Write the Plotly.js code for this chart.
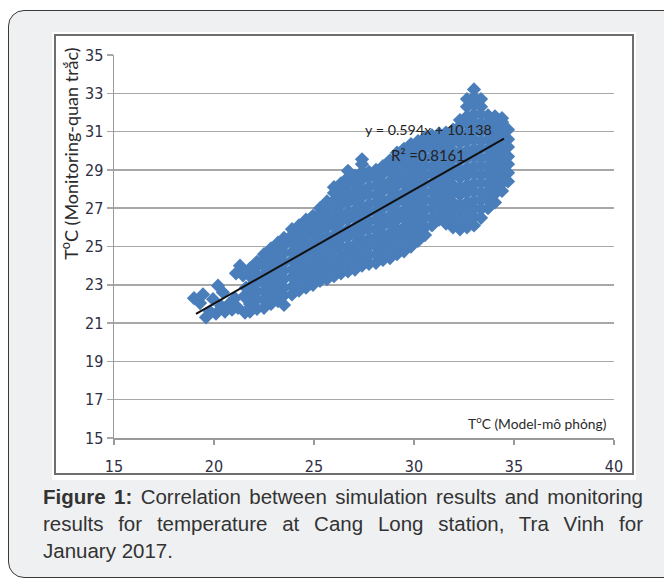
<!DOCTYPE html>
<html>
<head>
<meta charset="utf-8">
<script src="https://cdn.plot.ly/plotly-3.0.1.min.js"></script>
<style>
  html, body { margin: 0; padding: 0; background: #ffffff; width: 664px; height: 581px; overflow: hidden; }
  #panel { position: absolute; left: 8px; top: 10px; width: 700px; height: 566px; border: 1px solid #3a3a3a; border-radius: 16px; background: #eff0f2; }
  #imgbox { position: absolute; left: 52px; top: 32px; width: 584px; height: 448px; background: #ffffff; }
  #chart { position: absolute; left: 52px; top: 32px; width: 584px; height: 448px; }
  #frame { position: absolute; left: 54px; top: 34px; width: 576px; height: 437px; border: 2px solid #6e6e6e; pointer-events: none; }
  #caption { position: absolute; left: 43px; top: 483px; width: 600px; font-family: "Liberation Sans", Arial, sans-serif; font-size: 20.5px; line-height: 27px; color: #333333; }
  #caption div { white-space: nowrap; }
  #caption .j { text-align: justify; text-align-last: justify; }
</style>
</head>
<body>
<div id="panel"></div>
<div id="imgbox"></div>
<div id="chart"></div>
<div id="frame"></div>
<div id="caption">
  <div class="j"><b>Figure 1:</b> Correlation between simulation results and monitoring</div>
  <div class="j">results for temperature at Cang Long station, Tra Vinh for</div>
  <div>January 2017.</div>
</div>
<script>
// Sparse points at the lower-left end of the cloud
const modelLeft = [19.0, 19.3, 19.45, 19.6, 19.8, 19.95, 20.1, 20.2, 20.35, 20.45, 20.55, 20.75, 20.9, 21.05, 21.1, 21.3, 21.45, 21.2, 21.5, 21.55, 21.6];
const obsLeft   = [22.3, 22.05, 22.5, 21.3, 21.6, 22.25, 21.5, 22.95, 21.9, 22.6, 21.6, 22.0, 21.7, 22.3, 23.6, 24.0, 23.5, 21.8, 22.4, 21.55, 22.85];

// Dense cloud, read column by column (model temperature -> observed temperatures)
const modelCols = [21.8, 22.15, 22.5, 22.85, 23.2, 23.5, 23.9, 24.25, 24.6, 24.95, 25.3, 25.65, 26.0, 26.35, 26.7, 27.05, 27.4, 27.75, 28.1, 28.45, 28.8, 29.15, 29.5, 29.85, 30.2, 30.55, 30.9, 31.25, 31.6, 31.95, 32.3, 32.65, 33.0, 33.35, 33.7, 34.05, 34.4, 34.7];
const obsCols = [
  [21.6, 22.0, 22.5, 22.9, 23.45, 23.85],
  [21.75, 22.25, 22.65, 23.15, 23.55, 24.0, 24.2],
  [21.8, 22.2, 22.65, 23.05, 23.5, 23.95, 24.35, 24.6],
  [22.0, 22.4, 22.9, 23.35, 23.75, 24.2, 24.55, 24.9],
  [22.15, 22.65, 23.05, 23.5, 23.9, 24.4, 24.8, 25.2],
  [21.95, 22.45, 22.85, 23.3, 23.75, 24.15, 24.65, 25.05, 25.45],
  [22.5, 22.9, 23.4, 23.8, 24.3, 24.7, 25.2, 25.6, 25.9],
  [22.7, 23.2, 23.6, 24.05, 24.5, 24.9, 25.4, 25.8, 26.1],
  [22.85, 23.3, 23.8, 24.2, 24.7, 25.15, 25.55, 26.0, 26.4],
  [23.0, 23.5, 23.9, 24.35, 24.8, 25.2, 25.7, 26.1, 26.6],
  [23.2, 23.6, 24.1, 24.5, 25.0, 25.45, 25.85, 26.3, 26.7, 27.0],
  [23.3, 23.8, 24.2, 24.65, 25.1, 25.5, 26.0, 26.45, 26.85, 27.35],
  [23.45, 23.85, 24.3, 24.8, 25.2, 25.6, 26.1, 26.5, 27.0, 27.4, 27.8, 28.1],
  [23.6, 24.05, 24.45, 24.95, 25.4, 25.8, 26.3, 26.7, 27.2, 27.6, 28.0, 28.3],
  [23.7, 24.15, 24.6, 25.0, 25.5, 25.9, 26.4, 26.8, 27.3, 27.7, 28.2, 28.6, 28.95],
  [23.8, 24.25, 24.7, 25.1, 25.6, 26.0, 26.5, 26.9, 27.4, 27.85, 28.3, 28.7],
  [24.0, 24.4, 24.9, 25.3, 25.8, 26.2, 26.7, 27.1, 27.6, 28.0, 28.5, 28.9, 29.3, 29.55],
  [24.1, 24.55, 25.0, 25.4, 25.9, 26.3, 26.8, 27.2, 27.7, 28.1, 28.6, 28.9],
  [24.15, 24.6, 25.05, 25.5, 25.9, 26.4, 26.8, 27.3, 27.7, 28.2, 28.6, 29.0],
  [24.3, 24.75, 25.2, 25.6, 26.1, 26.5, 27.0, 27.4, 27.9, 28.3, 28.8, 29.2],
  [24.4, 24.85, 25.3, 25.7, 26.2, 26.6, 27.1, 27.5, 28.0, 28.4, 28.9, 29.3, 29.5],
  [24.6, 25.0, 25.5, 25.9, 26.4, 26.8, 27.3, 27.7, 28.2, 28.6, 29.1, 29.5, 29.9],
  [24.75, 25.15, 25.6, 26.0, 26.5, 26.9, 27.4, 27.8, 28.3, 28.75, 29.2, 29.6, 30.1],
  [25.0, 25.45, 25.9, 26.3, 26.8, 27.2, 27.7, 28.1, 28.6, 29.0, 29.5, 29.9, 30.35],
  [25.3, 25.7, 26.2, 26.6, 27.1, 27.5, 28.0, 28.4, 28.9, 29.3, 29.8, 30.2, 30.5],
  [25.6, 26.0, 26.5, 26.9, 27.4, 27.8, 28.3, 28.7, 29.2, 29.6, 30.1, 30.45, 30.7],
  [26.1, 26.5, 27.0, 27.4, 27.9, 28.3, 28.8, 29.2, 29.7, 30.1, 30.55, 30.8],
  [26.4, 26.85, 27.3, 27.7, 28.2, 28.6, 29.1, 29.5, 30.0, 30.4, 30.9],
  [26.2, 26.6, 27.1, 27.5, 28.0, 28.4, 28.9, 29.3, 29.8, 30.2, 30.7, 30.95],
  [26.0, 26.45, 26.9, 27.3, 27.8, 28.2, 28.7, 29.1, 29.6, 30.0, 30.5, 30.9, 31.1],
  [25.9, 26.35, 26.8, 27.2, 27.7, 28.1, 28.6, 29.0, 29.5, 29.9, 30.4, 30.8, 31.3, 31.6],
  [26.0, 26.45, 26.9, 27.3, 27.8, 28.2, 28.7, 29.1, 29.6, 30.0, 30.5, 30.9, 31.4, 31.8, 32.3, 32.7],
  [26.1, 26.55, 27.0, 27.4, 27.9, 28.3, 28.8, 29.2, 29.7, 30.1, 30.6, 31.0, 31.5, 31.9, 32.4, 32.8, 33.2],
  [26.5, 26.95, 27.4, 27.8, 28.3, 28.7, 29.2, 29.6, 30.1, 30.5, 31.0, 31.4, 31.9, 32.3, 32.7],
  [27.0, 27.45, 27.9, 28.3, 28.8, 29.2, 29.7, 30.1, 30.6, 31.0, 31.5, 31.85],
  [27.3, 27.75, 28.2, 28.6, 29.1, 29.5, 30.0, 30.4, 30.9, 31.3, 31.8],
  [27.9, 28.3, 28.8, 29.2, 29.7, 30.1, 30.6, 31.0, 31.5, 31.7],
  [28.4, 28.85, 29.3, 29.7, 30.2, 30.6, 31.1]
];

// Linear trendline (as printed on the chart)
const slope = 0.594;
const intercept = 10.138;
const rSquared = 0.8161;
const trendX = [19.1, 34.5];

const xTicks = [15, 20, 25, 30, 35, 40];
const yTicks = [15, 17, 19, 21, 23, 25, 27, 29, 31, 33, 35];

// Build point table
const xs = modelLeft.slice();
const ys = obsLeft.slice();
modelCols.forEach((mx, i) => {
  obsCols[i].forEach(oy => { xs.push(mx); ys.push(oy); });
});
const trendY = trendX.map(v => slope * v + intercept);

const tickFont = { family: '"DejaVu Sans Condensed", "Liberation Sans Narrow", sans-serif', size: 16, color: '#2e2e44' };
const titleFamily = 'Lato, "Open Sans", sans-serif';

const data = [
  {
    type: 'scatter', mode: 'markers', x: xs, y: ys,
    marker: { symbol: 'diamond', size: 11, color: '#4a7ebb', line: { width: 0 } },
    hoverinfo: 'skip', showlegend: false
  },
  {
    type: 'scatter', mode: 'lines', x: trendX, y: trendY,
    line: { color: '#111111', width: 2 }, hoverinfo: 'skip', showlegend: false
  }
];

const layout = {
  width: 584, height: 448,
  margin: { l: 62, r: 22, t: 23, b: 42 },
  paper_bgcolor: 'rgba(0,0,0,0)', plot_bgcolor: '#ffffff',
  showlegend: false,
  xaxis: {
    range: [15, 40], tickvals: xTicks, ticktext: xTicks.map(String),
    showgrid: false, zeroline: false,
    showline: true, linecolor: '#9a9a9a', linewidth: 1.5,
    ticks: 'outside', ticklen: 5, tickcolor: '#9a9a9a', tickwidth: 1.5,
    ticklabelstandoff: 8,
    tickfont: tickFont
  },
  yaxis: {
    range: [15, 35], tickvals: yTicks, ticktext: yTicks.map(String),
    showgrid: true, gridcolor: '#a8a8a8', gridwidth: 1.5, zeroline: false,
    showline: true, linecolor: '#9a9a9a', linewidth: 1.5,
    ticks: 'outside', ticklen: 6, tickcolor: '#a8a8a8', tickwidth: 1.5,
    tickfont: tickFont
  },
  annotations: [
    {
      xref: 'paper', yref: 'paper', x: -0.088, y: 0.742,
      text: 'T<sup>o</sup>C (Monitoring-quan trắc)', textangle: -90, showarrow: false,
      font: { family: titleFamily, size: 18, color: '#2a2a2a' }, xanchor: 'center', yanchor: 'middle'
    },
    {
      xref: 'paper', yref: 'paper', x: 0.846, y: 0.04,
      text: 'T<sup>o</sup>C (Model-mô phỏng)', showarrow: false,
      font: { family: titleFamily, size: 13.8, color: '#2a2a2a' }, xanchor: 'center', yanchor: 'middle'
    },
    {
      xref: 'x', yref: 'y', x: 30.72, y: 31.1,
      text: 'y = ' + slope + 'x + ' + intercept.toFixed(3), showarrow: false,
      font: { family: titleFamily, size: 14.3, color: '#222222' }, xanchor: 'center', yanchor: 'middle'
    },
    {
      xref: 'x', yref: 'y', x: 30.7, y: 29.8,
      text: 'R² =' + rSquared, showarrow: false,
      font: { family: titleFamily, size: 15, color: '#222222' }, xanchor: 'center', yanchor: 'middle'
    }
  ]
};

Plotly.newPlot('chart', data, layout, { displayModeBar: false, staticPlot: true });
</script>
</body>
</html>
